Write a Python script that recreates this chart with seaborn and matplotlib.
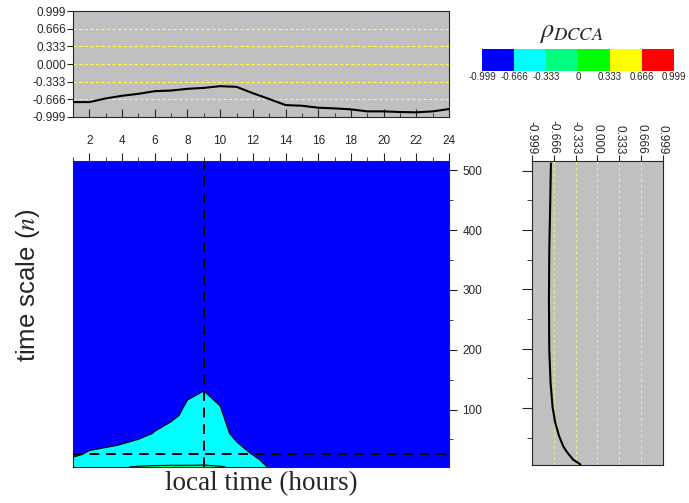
import numpy as np
import matplotlib
matplotlib.use('Agg')
import matplotlib.pyplot as plt
import seaborn as sns
from matplotlib.ticker import MultipleLocator

# local time (hours) and time scales n
hours = list(range(1, 25))
n_grid = [4, 8, 15, 25, 40, 60, 90, 130, 200, 300, 420, 516]

# rho_DCCA map, one row per time scale (n_grid), one column per hour
rho_rows = [
    [-0.55, -0.52, -0.45, -0.36, -0.30, -0.28, -0.27, -0.27, -0.26, -0.30, -0.40, -0.55, -0.68, -0.74, -0.76, -0.78, -0.79, -0.80, -0.81, -0.82, -0.82, -0.82, -0.81, -0.80],
    [-0.58, -0.55, -0.50, -0.45, -0.40, -0.37, -0.36, -0.36, -0.35, -0.40, -0.47, -0.58, -0.70, -0.75, -0.77, -0.79, -0.80, -0.81, -0.82, -0.83, -0.83, -0.83, -0.82, -0.81],
    [-0.63, -0.59, -0.56, -0.53, -0.50, -0.48, -0.47, -0.46, -0.45, -0.50, -0.55, -0.62, -0.72, -0.76, -0.78, -0.80, -0.81, -0.82, -0.83, -0.84, -0.84, -0.84, -0.83, -0.82],
    [-0.70, -0.64, -0.62, -0.60, -0.57, -0.54, -0.52, -0.50, -0.49, -0.55, -0.61, -0.67, -0.74, -0.78, -0.79, -0.81, -0.82, -0.83, -0.84, -0.85, -0.85, -0.85, -0.84, -0.83],
    [-0.74, -0.70, -0.68, -0.66, -0.63, -0.60, -0.57, -0.55, -0.54, -0.59, -0.65, -0.71, -0.77, -0.80, -0.81, -0.82, -0.83, -0.84, -0.85, -0.86, -0.86, -0.86, -0.85, -0.84],
    [-0.77, -0.74, -0.72, -0.71, -0.70, -0.66, -0.62, -0.59, -0.58, -0.62, -0.70, -0.75, -0.79, -0.81, -0.82, -0.83, -0.84, -0.85, -0.86, -0.86, -0.87, -0.87, -0.86, -0.85],
    [-0.79, -0.77, -0.75, -0.74, -0.73, -0.71, -0.69, -0.64, -0.62, -0.65, -0.73, -0.77, -0.80, -0.82, -0.83, -0.84, -0.85, -0.86, -0.86, -0.87, -0.87, -0.87, -0.86, -0.85],
    [-0.80, -0.78, -0.77, -0.76, -0.75, -0.74, -0.72, -0.68, -0.665, -0.69, -0.75, -0.78, -0.81, -0.83, -0.84, -0.84, -0.85, -0.86, -0.86, -0.87, -0.87, -0.87, -0.86, -0.85],
    [-0.80, -0.79, -0.78, -0.77, -0.76, -0.75, -0.74, -0.72, -0.71, -0.72, -0.76, -0.79, -0.82, -0.83, -0.84, -0.84, -0.85, -0.85, -0.86, -0.86, -0.86, -0.86, -0.85, -0.85],
    [-0.79, -0.78, -0.78, -0.77, -0.76, -0.75, -0.74, -0.73, -0.72, -0.73, -0.76, -0.79, -0.81, -0.82, -0.83, -0.83, -0.84, -0.84, -0.85, -0.85, -0.85, -0.85, -0.84, -0.84],
    [-0.78, -0.78, -0.77, -0.76, -0.75, -0.74, -0.73, -0.72, -0.72, -0.72, -0.75, -0.78, -0.80, -0.81, -0.82, -0.82, -0.83, -0.83, -0.84, -0.84, -0.84, -0.84, -0.83, -0.83],
    [-0.78, -0.77, -0.77, -0.76, -0.75, -0.74, -0.73, -0.72, -0.71, -0.72, -0.75, -0.78, -0.80, -0.81, -0.82, -0.82, -0.83, -0.83, -0.84, -0.84, -0.84, -0.84, -0.83, -0.83],
]

# cut at n = 25 (top panel)
top_rho = [-0.718, -0.718, -0.649, -0.599, -0.562, -0.512, -0.500, -0.468, -0.450, -0.418, -0.430, -0.550,
           -0.660, -0.774, -0.787, -0.824, -0.837, -0.855, -0.893, -0.893, -0.905, -0.911, -0.893, -0.849]

# cut at 9 h (right panel)
right_n = [5, 13, 25, 35, 52, 75, 102, 142, 197, 281, 364, 448, 512]
right_rho = [-0.26, -0.37, -0.46, -0.52, -0.583, -0.644, -0.685, -0.715, -0.735, -0.74, -0.735, -0.72, -0.71]

levels = [-0.999, -0.666, -0.333, 0, 0.333, 0.666, 0.999]
level_labels = ['-0.999', '-0.666', '-0.333', '0.000', '0.333', '0.666', '0.999']
cbar_labels = ['-0.999', '-0.666', '-0.333', '0', '0.333', '0.666', '0.999']
colors = ['#0000ff', '#00ffff', '#00ff80', '#00ff00', '#ffff00', '#ff0000']

sns.set_style('ticks')
plt.rcParams['font.family'] = ['Liberation Sans', 'DejaVu Sans']
plt.rcParams['mathtext.fontset'] = 'stix'

gray = '#c0c0c0'
dash = (0, (5, 3.5))

fig = plt.figure(figsize=(6.89, 5.03), dpi=100)
ax_top = fig.add_axes([0.106, 0.7674, 0.5457, 0.2107])
ax_main = fig.add_axes([0.106, 0.0716, 0.5457, 0.609])
ax_right = fig.add_axes([0.7721, 0.0755, 0.1901, 0.6044])
cax = fig.add_axes([0.6996, 0.8588, 0.2787, 0.0437])

# top panel
ax_top.set_facecolor(gray)
for v in levels[1:-1]:
    ax_top.axhline(v, color='#ffff40', ls=(0, (3, 2)), lw=0.8, zorder=1)
sns.lineplot(x=hours, y=top_rho, ax=ax_top, color='black', linewidth=1.5, zorder=3)
ax_top.set_xlim(1, 24)
ax_top.set_ylim(-0.999, 0.999)
ax_top.set_yticks(levels)
ax_top.set_yticklabels(level_labels)
ax_top.xaxis.set_major_locator(MultipleLocator(2))
ax_top.set_xticks(range(1, 25, 2), minor=True)
ax_top.tick_params(axis='x', which='major', direction='in', length=6, labelbottom=False)
ax_top.tick_params(axis='x', which='minor', direction='in', length=3)
ax_top.tick_params(axis='y', direction='out', length=4, labelsize=8.5, pad=1)
ax_top.set_xlabel('')
ax_top.set_ylabel('')

# main contour map
Z = np.array(rho_rows)
cs = ax_main.contourf(hours, n_grid, Z, levels=levels, colors=colors, antialiased=True)
ax_main.contour(hours, n_grid, Z, levels=[-0.666, -0.333], colors='black',
                linewidths=0.8, linestyles='solid', zorder=3)
ax_main.axvline(9, color='black', ls=dash, lw=1.4, zorder=4)
ax_main.axhline(25, color='black', ls=dash, lw=1.4, zorder=4)
ax_main.set_xlim(1, 24)
ax_main.set_ylim(4, 516)
ax_main.xaxis.tick_top()
ax_main.set_xticks(range(2, 25, 2))
ax_main.set_xticks(range(1, 25, 2), minor=True)
ax_main.yaxis.tick_right()
ax_main.set_yticks([100, 200, 300, 400, 500])
ax_main.set_yticks([50, 150, 250, 350, 450], minor=True)
ax_main.tick_params(which='major', direction='out', length=6, labelsize=8.5)
ax_main.tick_params(which='minor', direction='out', length=3)
ax_main.xaxis.set_label_position('bottom')
ax_main.set_xlabel('local time (hours)', fontfamily='Liberation Serif', fontsize=19.5, labelpad=3)
fig.text(0.04, 0.432, 'time scale ($n$)', rotation=90, fontsize=18.5, ha='center', va='center')

# right panel
ax_right.set_facecolor(gray)
for v in levels[1:-1]:
    ax_right.axvline(v, color='#e8e888', ls=(0, (3, 2)), lw=0.8, zorder=1)
sns.lineplot(x=right_rho, y=right_n, orient='y', ax=ax_right, color='black', linewidth=1.5, zorder=3)
ax_right.set_xlim(-0.999, 0.999)
ax_right.set_ylim(4, 516)
ax_right.xaxis.tick_top()
ax_right.set_xticks(levels)
ax_right.set_xticklabels(level_labels, rotation=-90, ha='center', va='bottom')
ax_right.set_yticks([100, 200, 300, 400, 500])
ax_right.set_yticks([50, 150, 250, 350, 450], minor=True)
ax_right.tick_params(axis='x', direction='out', length=4, labelsize=8.5, pad=1)
ax_right.tick_params(axis='y', which='major', direction='out', length=7, labelleft=False)
ax_right.tick_params(axis='y', which='minor', direction='out', length=3.5)
ax_right.set_xlabel('')
ax_right.set_ylabel('')

# colour bar
cb = fig.colorbar(cs, cax=cax, orientation='horizontal', ticks=levels)
cb.set_ticklabels(cbar_labels)
cb.outline.set_visible(False)
cax.tick_params(length=0, labelsize=7.0, pad=1)
fig.text(0.83, 0.934, r'$\rho_{DCCA}$', fontsize=19, ha='center', va='center')

fig.savefig('out.png', dpi=100)
